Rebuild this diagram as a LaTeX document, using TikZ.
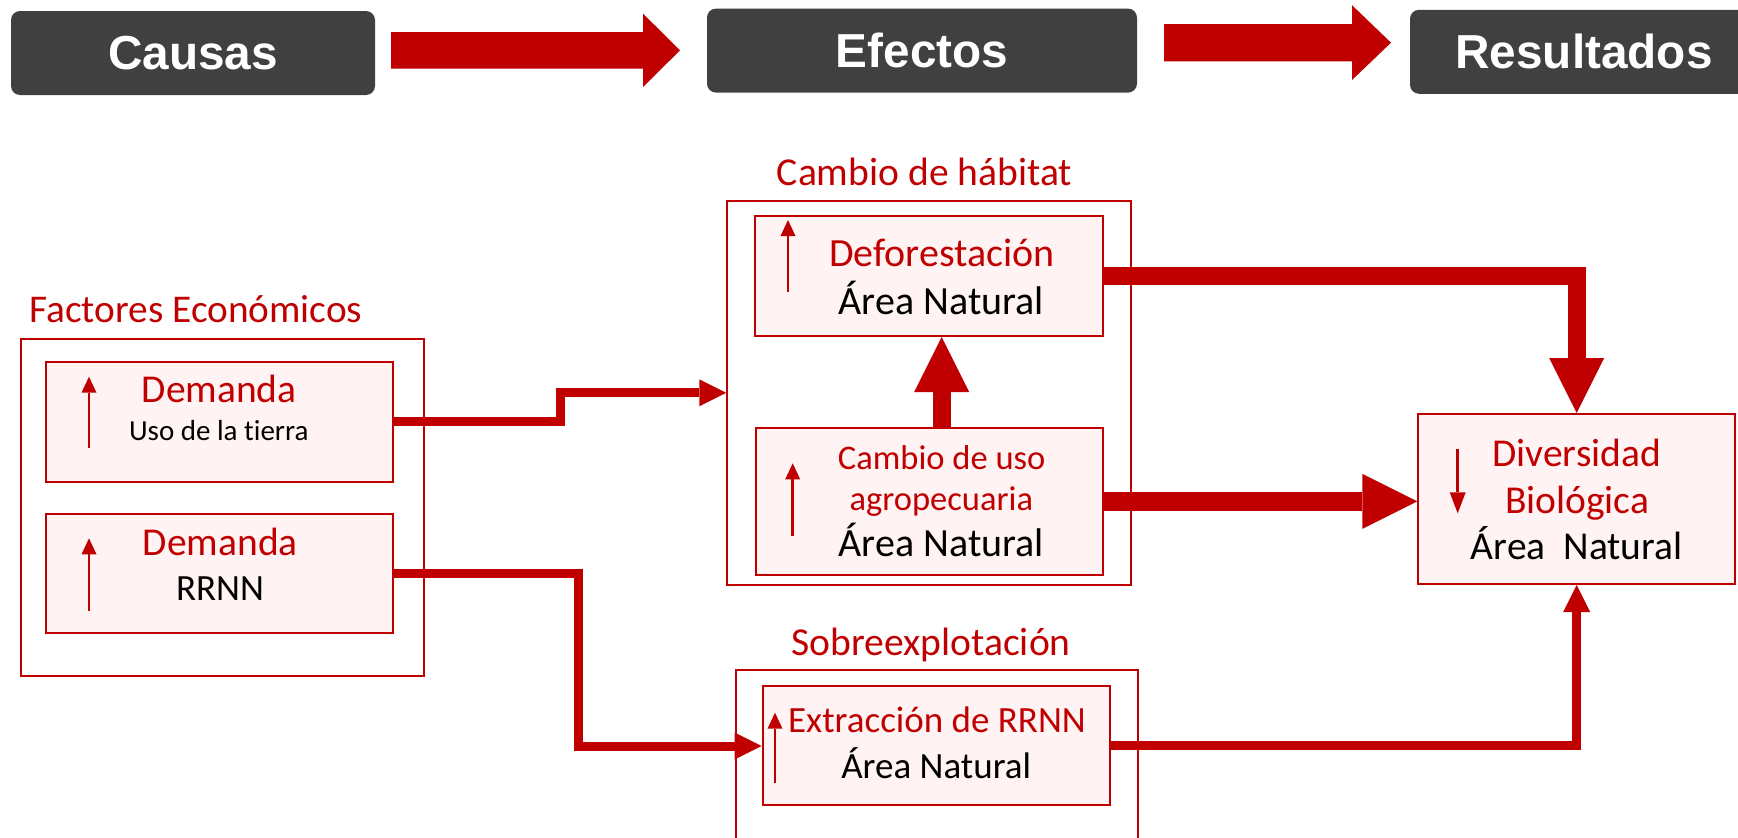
\documentclass[tikz,border=0pt]{standalone}
\usepackage{fontspec}
\setmainfont{Carlito}[Ligatures=NoCommon]
\newfontfamily\hdrfont{Liberation Sans}
\usetikzlibrary{arrows.meta}
\definecolor{dred}{HTML}{C00000}
\definecolor{pinkfill}{HTML}{FFF3F3}
\definecolor{hdrgray}{HTML}{404040}
\tikzset{
 hdrbox/.style={fill=hdrgray, rounded corners=9pt, text=white, font=\hdrfont\bfseries\fontsize{47.7}{50}\selectfont, inner sep=0pt},
 outerbox/.style={draw=dred, line width=2pt, fill=white, inner sep=0pt},
 innerbox/.style={draw=dred, line width=2pt, fill=pinkfill, inner sep=0pt},
 lbl/.style={text=dred, anchor=base, inner sep=0pt},
 blk/.style={text=black, anchor=base, inner sep=0pt},
 thinconn/.style={draw=dred, line width=9pt, -{Triangle[length=27pt,width=27pt,line width=0pt]}},
 thickconn/.style={draw=dred, line width=18.3pt, -{Triangle[length=55pt,width=55pt,line width=0pt]}},
 mini/.style={draw=dred, line width=2.5pt, -{Triangle[length=16pt,width=15pt,line width=0pt]}},
 fs/.style={font=\fontsize{#1}{#1}\selectfont},
}
\begin{document}
\begin{tikzpicture}[x=1pt,y=-1pt]
\useasboundingbox (0,0) rectangle (1738,838);
\clip (0,0) rectangle (1738,838);
% header
\node[hdrbox, minimum width=364pt, minimum height=84pt] (causas) at (193,53) {Causas};
\node[hdrbox, minimum width=430pt, minimum height=84pt] (efectos) at (922,50.6) {Efectos};
\node[hdrbox, minimum width=348pt, minimum height=84pt] (result) at (1584,51.8) {Resultados};
\fill[dred] (391,32) -- (643,32) -- (643,13.6) -- (680,50.3) -- (643,87.1) -- (643,68.7) -- (391,68.7) -- cycle;
\fill[dred] (1164,24) -- (1352,24) -- (1352,5.2) -- (1391,42.7) -- (1352,80) -- (1352,61.3) -- (1164,61.3) -- cycle;
% outer boxes
\node[outerbox, minimum width=403pt, minimum height=337pt] (fe) at (222.5,507.5) {};
\node[outerbox, minimum width=403.4pt, minimum height=384.3pt] (ch) at (929,392.85) {};
\node[outerbox, minimum width=402.6pt, minimum height=190pt] (sob) at (937,765) {};
% outer labels
\node[lbl, fs=39.3] (lfe) at (195.8,322.7) {Factores Económicos};
\node[lbl, fs=39.6] (lch) at (924.5,185) {Cambio de hábitat};
\node[lbl, fs=39.6] (lsob) at (931.2,655) {Sobreexplotación};
% inner boxes
\node[innerbox, minimum width=347.6pt, minimum height=120pt] (dem1) at (219.5,421.7) {};
\node[innerbox, minimum width=347.6pt, minimum height=119.3pt] (dem2) at (219.5,573.7) {};
\node[innerbox, minimum width=347.7pt, minimum height=120pt] (def) at (928.85,276) {};
\node[innerbox, minimum width=347.6pt, minimum height=147.3pt] (cu) at (929.5,501.35) {};
\node[innerbox, minimum width=347.3pt, minimum height=119.3pt] (ext) at (936.35,745.35) {};
\node[innerbox, minimum width=316.7pt, minimum height=170pt] (div) at (1576.65,499) {};
% texts
\node[lbl, fs=39.5] (t1a) at (219.2,402.7) {Demanda};
\node[blk, fs=29] (t1b) at (218.8,440.7) {Uso de la tierra};
\node[lbl, fs=39.5] (t2a) at (220.3,555) {Demanda};
\node[blk, fs=37] (t2b) at (220,600.7) {RRNN};
\node[lbl, fs=40] (t3a) at (941.8,266.7) {Deforestación};
\node[blk, fs=40] (t3b) at (941.3,314.3) {Área Natural};
\node[lbl, fs=34.5] (t4a) at (941.7,469) {Cambio de uso};
\node[lbl, fs=34.5] (t4b) at (941.3,510.7) {agropecuaria};
\node[blk, fs=40] (t4c) at (941.3,556) {Área Natural};
\node[lbl, fs=37] (t5a) at (937,732.7) {Extracción de RRNN};
\node[blk, fs=37] (t5b) at (936.2,778.3) {Área Natural};
\node[lbl, fs=39.5] (t6a) at (1576.7,466) {Diversidad};
\node[lbl, fs=39.5] (t6b) at (1577.2,513.3) {Biológica};
\node[blk, fs=39.5] (t6c) at (1576.7,559) {Área\ \ Natural};
% mini arrows
\draw[mini] (89,448.3) -- (89,376.7);
\draw[mini] (89,611) -- (89,538.3);
\draw[mini] (788,291.7) -- (788,220);
\draw[mini] (792.7,536) -- (792.7,463.3);
\draw[mini] (775,783.3) -- (775,712.7);
\draw[draw=dred, line width=2.5pt, -{Triangle[length=21pt,width=16pt,line width=0pt]}] (1457.7,449.3) -- (1457.7,513.3);
% connectors
\coordinate (c1) at (560.5,392.8);
\coordinate (c2) at (578,746);
\coordinate (c6) at (941.7,0);
\draw[thinconn] (dem1.east) -| (c1) -- (c1 -| ch.west);
\draw[thinconn] (dem2.east) -| (c2) -- (c2 -| ext.west);
\draw[thickconn] (def.east) -| (div.north);
\draw[thickconn] (cu.east) -- (cu.east -| div.west);
\draw[thinconn] (ext.east) -| (div.south);
\draw[thickconn] (c6 |- cu.north) -- (c6 |- def.south);
\end{tikzpicture}
\end{document}
